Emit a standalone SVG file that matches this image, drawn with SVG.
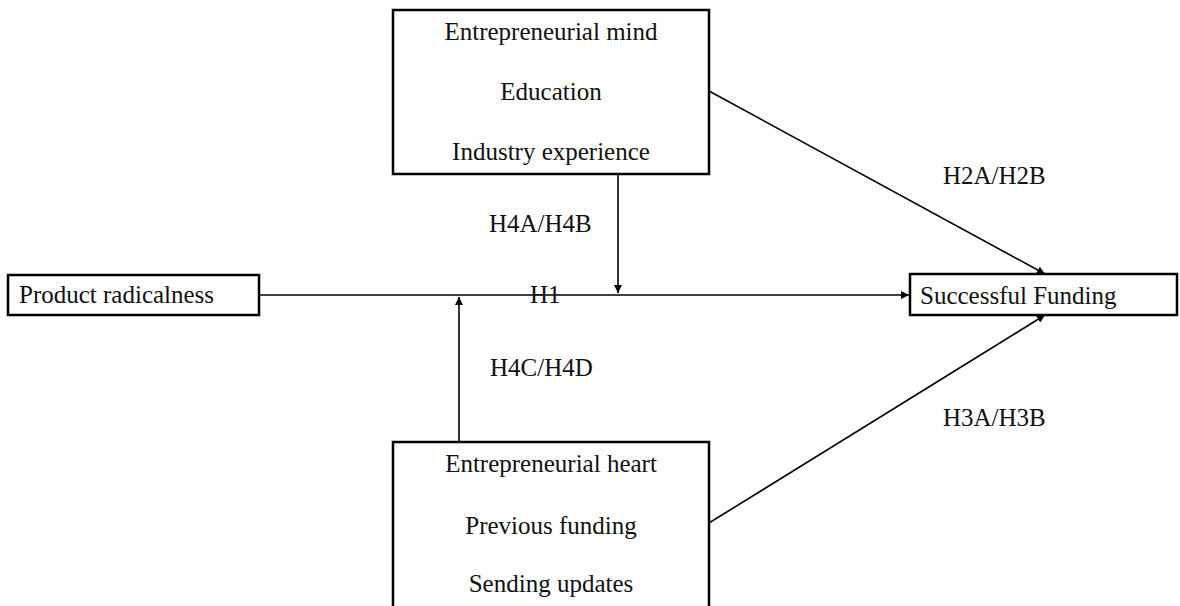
<svg xmlns="http://www.w3.org/2000/svg" width="1180" height="606" viewBox="0 0 1180 606">
<style>
.box{fill:#fff;stroke:#000;stroke-width:2.5}
.t{font-family:"Liberation Serif","Times New Roman",serif;font-size:25px;fill:#111}
.c{text-anchor:middle}
.ln{stroke:#000;stroke-width:1.6;fill:none;marker-end:url(#ah)}
</style>
<defs>
<marker id="ah" viewBox="0 0 10 10" refX="10" refY="5" markerWidth="9" markerHeight="8" markerUnits="userSpaceOnUse" orient="auto">
<path d="M0,0 L10,5 L0,10 z" fill="#000"/>
</marker>
</defs>
<rect width="1180" height="606" fill="#fff"/>
<g id="connectors">
<line class="ln" x1="259" y1="295" x2="909" y2="295"/>
<line class="ln" x1="618" y1="175" x2="618" y2="293"/>
<line class="ln" x1="459" y1="441" x2="459" y2="297"/>
<line class="ln" x1="709" y1="91" x2="1045" y2="274"/>
<line class="ln" x1="709" y1="523" x2="1045" y2="315"/>
</g>
<g id="labels">
<text class="t" x="489" y="232">H4A/H4B</text>
<text class="t" x="530" y="303">H1</text>
<text class="t" x="490" y="376">H4C/H4D</text>
<text class="t" x="943" y="184">H2A/H2B</text>
<text class="t" x="943" y="426">H3A/H3B</text>
</g>
<g id="entrepreneurial-mind">
<rect class="box" x="393" y="10" width="316" height="164"/>
<text class="t c" x="551" y="40">Entrepreneurial mind</text>
<text class="t c" x="551" y="100">Education</text>
<text class="t c" x="551" y="160">Industry experience</text>
</g>
<g id="product-radicalness">
<rect class="box" x="8" y="275" width="251" height="40"/>
<text class="t" x="19" y="303">Product radicalness</text>
</g>
<g id="successful-funding">
<rect class="box" x="910" y="274" width="267" height="41"/>
<text class="t" x="920" y="304">Successful Funding</text>
</g>
<g id="entrepreneurial-heart">
<rect class="box" x="393" y="442" width="316" height="180"/>
<text class="t c" x="551" y="472">Entrepreneurial heart</text>
<text class="t c" x="551" y="534">Previous funding</text>
<text class="t c" x="551" y="592">Sending updates</text>
</g>
</svg>
